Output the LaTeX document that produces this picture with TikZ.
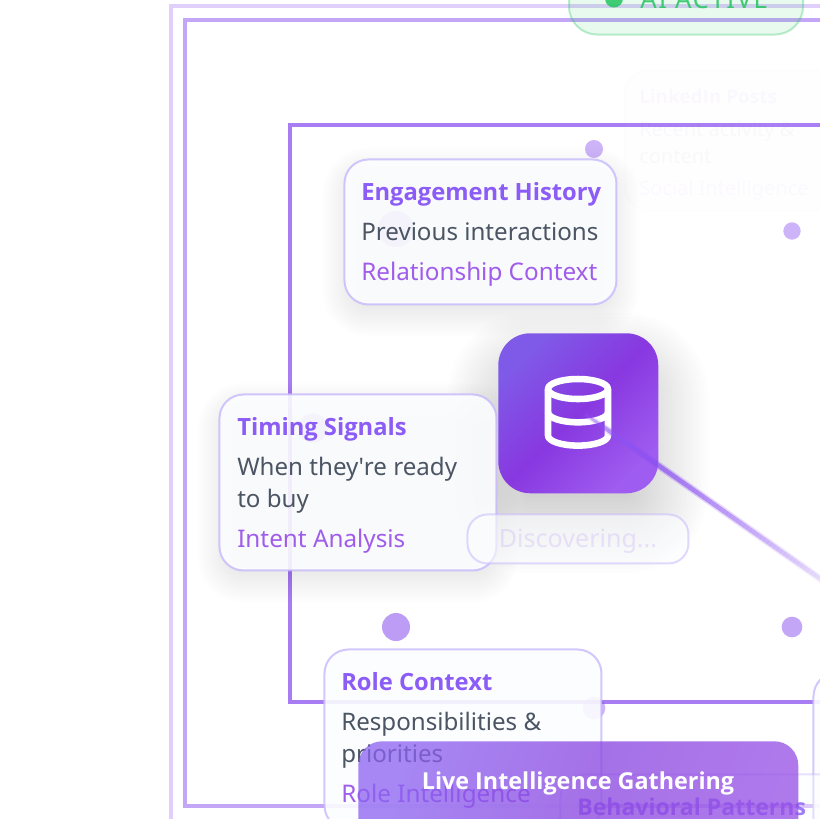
\documentclass[tikz,border=0pt]{standalone}
\usepackage{fontspec}
\setmainfont{Noto Sans}
\newfontfamily\boldf{Open Sans}
\usetikzlibrary{calc}
\definecolor{vio}{HTML}{8B5CF6}
\definecolor{pur}{HTML}{9333EA}
\definecolor{lin}{HTML}{7C3AED}
\definecolor{bodyc}{HTML}{4B5563}
\definecolor{srcc}{HTML}{A05CEA}
\definecolor{borderc}{HTML}{C4B5FD}
\definecolor{grn}{HTML}{22C55E}
\definecolor{cardc}{HTML}{FCFDFF}
\definecolor{gra}{HTML}{7F5AE8}
\definecolor{grb}{HTML}{8838E0}
\definecolor{grc}{HTML}{9F5CF0}
\definecolor{bna}{HTML}{8B62F0}
\definecolor{bnb}{HTML}{8A45E0}
\definecolor{bnc}{HTML}{9650E6}
\newcommand{\softbox}[8]{% x1 y1 x2 y2 radius(px) spread dy totalopacity
  \foreach \k in {1,...,28}{
    \pgfmathsetmacro{\ss}{#6-(\k-1)*2*#6/28}
    \pgfmathsetmacro{\rr}{max(2,(#5+\ss))*0.75}
    \fill[black,opacity=#8/28,rounded corners=\rr pt] ({#1-\ss},{#2-\ss+#7}) rectangle ({#3+\ss},{#4+\ss+#7});
  }}
\tikzset{
  x=0.75pt,y=-0.75pt,
  frameline/.style={draw=lin,line width=3pt,fill=none},
  cardbox/.style={anchor=north west,inner sep=0pt,rectangle,rounded corners=18pt,draw=borderc,draw opacity=.75,line width=1.5pt,fill=cardc,fill opacity=.9,xshift=-0.4pt,yshift=0.4pt},
  ttl/.style={anchor=base west,inner sep=0pt,text=vio,font=\fontsize{17.8pt}{20pt}\selectfont\boldf\bfseries},
  bdy/.style={anchor=base west,inner sep=0pt,text=bodyc,font=\fontsize{18.1pt}{20pt}\selectfont},
  src/.style={anchor=base west,inner sep=0pt,text=srcc,font=\fontsize{18.2pt}{20pt}\selectfont},
  dotn/.style={circle,inner sep=0pt,fill=lin,draw=none},
}
\begin{document}
\begin{tikzpicture}
\useasboundingbox (0,0) rectangle (820,818);
\clip (0,0) rectangle (820,818);
\fill[white] (0,0) rectangle (820,818);
% frames
\coordinate (f1a) at (170.5,5.5); \coordinate (f1b) at (900,900);
\coordinate (f2a) at (184.5,19.5); \coordinate (f2b) at (900,806);
\coordinate (f3a) at (289.5,124.5); \coordinate (f3b) at (900,701.5);
\draw[frameline,draw opacity=.24] (f1a) rectangle (f1b);
\draw[frameline,draw opacity=.45] (f2a) rectangle (f2b);
\draw[frameline,draw opacity=.66] (f3a) rectangle (f3b);
% orbit dots
\node[dotn,opacity=.38,minimum size=13.5pt] (d1) at (594,149) {};
\node[dotn,opacity=.38,minimum size=13pt] (d2) at (792,231) {};
\node[dotn,opacity=.5,minimum size=21pt] (d3) at (396,627) {};
\node[dotn,opacity=.45,minimum size=15.5pt] (d4) at (792,627) {};
\node[dotn,opacity=.38,minimum size=17pt] (d5) at (594,708) {};
\node[dotn,opacity=.38,minimum size=27pt] (d6) at (396,229) {};
\node[dotn,opacity=.38,minimum size=22pt] (d7) at (313,428) {};
% ghost card
\node[cardbox,opacity=.015,minimum width=240pt,minimum height=105pt] (ghost) at (624,70) {};
\node[ttl,opacity=.03,font=\fontsize{14.2pt}{18pt}\selectfont\boldf\bfseries] (g1) at (639,103) {LinkedIn Posts};
\node[bdy,opacity=.03,font=\fontsize{15pt}{18pt}\selectfont] (g2) at (639,136) {Recent activity \&};
\node[bdy,opacity=.03,font=\fontsize{15pt}{18pt}\selectfont] (g3) at (639,163) {content};
\node[src,opacity=.03,font=\fontsize{15pt}{18pt}\selectfont] (g4) at (639,195) {Social Intelligence};
% far right card
\node[cardbox,minimum width=200pt,minimum height=200pt] (rc) at (813,672) {};
% icon shadow
\softbox{498}{333}{658}{493}{32}{50}{30}{.18}
% engagement card
\softbox{344}{159}{617}{305}{24}{22}{10}{.07}
\node[cardbox,minimum width=204pt,minimum height=108.75pt] (eng) at (344,159) {};
\node[ttl] (e1) at (361,200) {Engagement History};
\node[bdy] (e2) at (361,240) {Previous interactions};
\node[src] (e3) at (361,280) {Relationship Context};
% timing card
\softbox{219}{394}{497}{571}{24}{22}{10}{.07}
\node[cardbox,minimum width=207.75pt,minimum height=132pt] (tim) at (219,394) {};
\node[ttl] (t1) at (237,435) {Timing Signals};
\node[bdy] (t2) at (237,475) {When they\textquotesingle re ready};
\node[bdy] (t3) at (237,507) {to buy};
\node[src] (t4) at (237,547) {Intent Analysis};
% discovering pill
\softbox{467}{514}{689}{564}{20}{20}{10}{.05}
\node[cardbox,fill opacity=.6,draw opacity=.5,rounded corners=15pt,minimum width=165.75pt,minimum height=36.75pt] (disc) at (467,514) {};
\node[bdy,anchor=base,text=vio,opacity=.15,font=\fontsize{18.8pt}{20pt}\selectfont] (disct) at (578,547) {Discovering...};
% role card
\softbox{324}{649}{602}{830}{24}{20}{8}{.05}
\node[cardbox,minimum width=207.75pt,minimum height=135pt] (rol) at (324,649) {};
\node[ttl] (r1) at (341,690) {Role Context};
\node[bdy] (r2) at (341,730) {Responsibilities \&};
\node[bdy] (r3) at (341,762) {priorities};
\node[src] (r4) at (341,802) {Role Intelligence};
% behavioural card
\node[cardbox,minimum width=250pt,minimum height=120pt,fill opacity=.4,draw opacity=.4] (beh) at (560,774) {};
\node[ttl,opacity=.8,font=\fontsize{17.3pt}{20pt}\selectfont\boldf\bfseries] (b1) at (577,815) {Behavioral Patterns};
% banner
\node[anchor=north west,inner sep=0pt,rectangle,rounded corners=18pt,minimum width=330pt,minimum height=120pt,left color=bna,right color=bnc,middle color=bnb,shading angle=70,opacity=.76] (ban) at (358,741) {};
\node[anchor=center,inner sep=0pt,text=white,font=\fontsize{17.5pt}{20pt}\selectfont\boldf\bfseries] (bant) at (578,783) {Live Intelligence Gathering};
% AI pill
\node[anchor=south west,inner sep=0pt,rectangle,rounded corners=21pt,minimum width=175.5pt,minimum height=75pt,fill=grn,fill opacity=.1,draw=grn,draw opacity=.3,line width=1.5pt] (pill) at (568,35.5) {};
\node[dotn,fill=grn,fill opacity=.85,minimum size=13.5pt] (pd) at (614,-1.5) {};
\node[anchor=base west,inner sep=0pt,text=grn,opacity=.85,font=\fontsize{19.3pt}{20pt}\selectfont\addfontfeature{LetterSpace=6}] (pt) at (640,8) {AI ACTIVE};
% central icon
\node[anchor=north west,inner sep=0pt,rectangle,rounded corners=24pt,minimum width=120pt,minimum height=120pt,left color=gra,right color=grc,middle color=grb,shading angle=45] (ico) at (498,333) {};
\begin{scope}[draw=white,line width=4.9pt,line join=round]
\draw (578,389) ellipse [x radius=30,y radius=10];
\draw (548,389) -- (548,435.6) arc[start angle=180,end angle=360,x radius=30,y radius=-10] -- (608,389);
\draw (548,412.3) arc[start angle=180,end angle=360,x radius=30,y radius=-10];
\end{scope}
% beam
\coordinate (ba) at (585,414);
\coordinate (bb) at (822,580);
\foreach \i in {0,...,69}{
  \pgfmathsetmacro{\ta}{\i/70}
  \pgfmathsetmacro{\tb}{(\i+1)/70}
  \pgfmathsetmacro{\op}{\ta<0.25 ? (0.5+\ta/0.25*0.5) : (1-(\ta-0.25)/0.75*0.82)}
  \pgfmathsetmacro{\wd}{\ta<0.12 ? (1.4+\ta/0.12*2) : 3.4}
  \pgfmathsetmacro{\we}{\wd+2.2}
  \draw[vio!75!pur,line width=\we pt,opacity=\op*0.3] ($(ba)!\ta!(bb)$) -- ($(ba)!\tb!(bb)$);
  \draw[vio!75!pur,line width=\wd pt,opacity=\op*0.75] ($(ba)!\ta!(bb)$) -- ($(ba)!\tb!(bb)$);
}
\end{tikzpicture}
\end{document}
